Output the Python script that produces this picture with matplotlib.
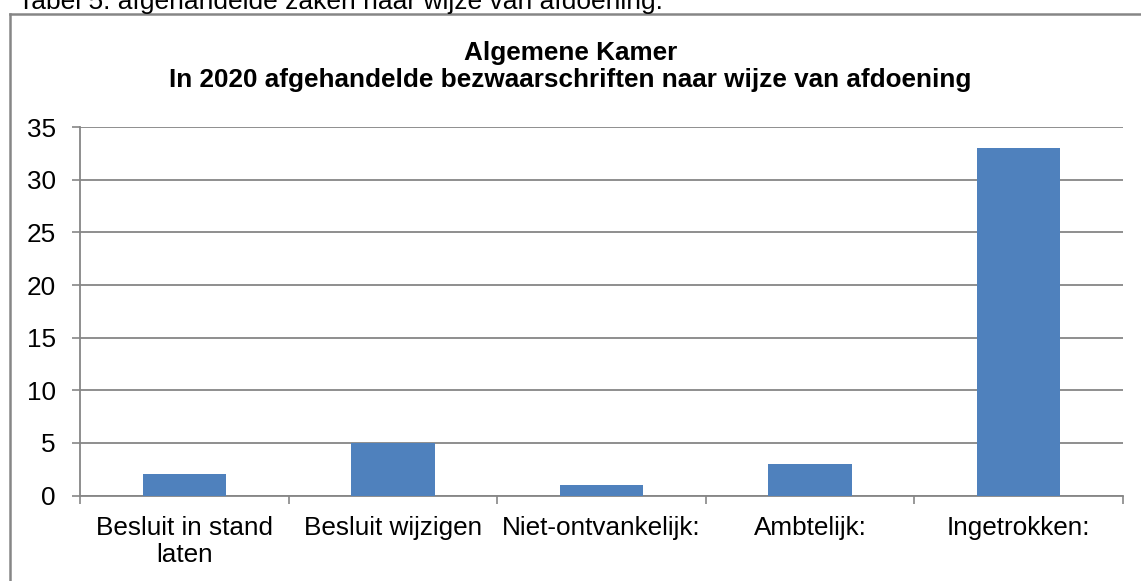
import matplotlib.pyplot as plt
from matplotlib.lines import Line2D

categories = ['Besluit in stand\nlaten', 'Besluit wijzigen', 'Niet-ontvankelijk:',
              'Ambtelijk:', 'Ingetrokken:']
values = [2, 5, 1, 3, 33]
yticks = [0, 5, 10, 15, 20, 25, 30, 35]

plt.rcParams['font.family'] = ['Liberation Sans', 'DejaVu Sans']
grey = '#868686'
fs = 18.8

W, H = 1141, 581
fig = plt.figure(figsize=(W / 100, H / 100), dpi=100)
ax = fig.add_axes([80 / W, (H - 495.5) / H, (1123 - 80) / W, (495.5 - 127.3) / H])

x = list(range(len(values)))
ax.bar(x, values, width=0.4, color='#4F81BD', zorder=3)
ax.set_xlim(-0.5, len(values) - 0.5)
ax.set_ylim(0, 35)
ax.set_yticks(yticks)
ax.set_xticks([i - 0.5 for i in range(len(values) + 1)])
ax.set_xticklabels([])
ax.set_xticks(x, minor=True)
ax.set_xticklabels(categories, minor=True, fontsize=fs, linespacing=1.15)
ax.tick_params(axis='x', which='minor', length=0, pad=15)
ax.tick_params(axis='x', which='major', length=5.5, color=grey, width=1.2)
ax.tick_params(axis='y', length=5.5, color=grey, width=1.2, labelsize=fs, pad=12)
ax.yaxis.grid(True, color=grey, linewidth=1.3, zorder=0)
for s in ['top', 'right']:
    ax.spines[s].set_visible(False)
for s in ['left', 'bottom']:
    ax.spines[s].set_color(grey)
    ax.spines[s].set_linewidth(1.3)

# baseline of the last title line
fig.text(0.5, 1 - 86.7 / H, 'Algemene Kamer\nIn 2020 afgehandelde bezwaarschriften naar wijze van afdoening',
         ha='center', va='baseline', fontsize=fs, fontweight='bold', linespacing=1.15,
         multialignment='center')
# caption and outer frame
fig.text(18 / W, 1 - 9.5 / H, 'Tabel 5: afgehandelde zaken naar wijze van afdoening.',
         ha='left', va='baseline', fontsize=19)
fig.add_artist(Line2D([9.5 / W, 9.5 / W], [0, 1 - 14 / H], color=grey, lw=1.8,
                      transform=fig.transFigure))
fig.add_artist(Line2D([9.5 / W, 1], [1 - 14 / H, 1 - 14 / H], color=grey, lw=1.8,
                      transform=fig.transFigure))

plt.savefig('out.png', dpi=100)
